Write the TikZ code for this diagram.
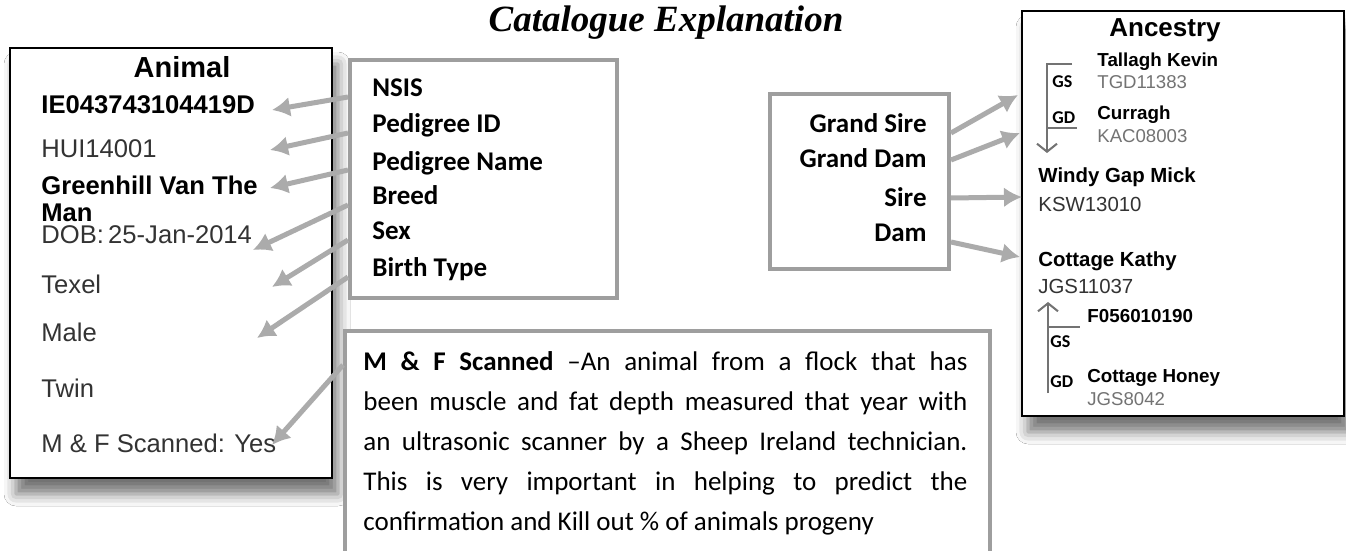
\documentclass[tikz,border=0pt]{standalone}
\usepackage{fontspec}
\setmainfont{Liberation Sans}
\newfontfamily\calibri{Carlito}
\newfontfamily\cambria{Liberation Serif}
\usetikzlibrary{positioning,arrows.meta,shadows.blur}

\begin{document}
\begin{tikzpicture}[x=0.5pt,y=-0.5pt,
card/.style={draw=black,line width=1pt,fill=white,anchor=north west,inner sep=0pt,
    blur shadow={shadow xshift=3pt,shadow yshift=-8pt,shadow blur radius=6pt,shadow opacity=55}},
keybox/.style={draw=black!38,line width=2pt,fill=white,anchor=north west,inner sep=0pt},
field/.style={anchor=base west,inner sep=0pt,text=black!80,font=\fontsize{12.8}{15}\selectfont},
bfield/.style={field,text=black,font=\fontsize{12.8}{15}\selectfont\bfseries},
key/.style={anchor=base west,inner sep=0pt,font=\calibri\bfseries\fontsize{13.5}{16}\selectfont},
rkey/.style={key,anchor=base east},
heading/.style={anchor=base,inner sep=0pt,font=\bfseries\fontsize{14.5}{17}\selectfont},
anc/.style={anchor=base west,inner sep=0pt,font=\bfseries\fontsize{9.4}{11}\selectfont},
ancid/.style={anchor=base west,inner sep=0pt,text=black!55,font=\fontsize{9.3}{11}\selectfont},
parent/.style={anchor=base west,inner sep=0pt,font=\bfseries\fontsize{10.2}{12}\selectfont},
parentid/.style={anchor=base west,inner sep=0pt,text=black!80,font=\fontsize{10.2}{12}\selectfont},
gen/.style={anchor=base west,inner sep=0pt,font=\calibri\bfseries\fontsize{9}{10}\selectfont},
pointer/.style={draw=black!33,line width=2.5pt,-{Latex[length=9pt,width=10pt]}},
tree/.style={draw=black!55,line width=1pt}]
\useasboundingbox[fill=white] (0,0) rectangle (1346,551);

\node (title) at (666,23) {\cambria\bfseries\itshape\fontsize{18.5}{22}\selectfont Catalogue Explanation};

\node (animal) [card,minimum width=161pt,minimum height=215pt] at (9,47) {};
\node (animalhd) [heading] at (182,78) {Animal};
\node (nsisval) [bfield] at (41,114) {IE043743104419D};
\node (pedid) [field] at (41,158) {HUI14001};
\node (pedname) [bfield] at (41,195) {Greenhill Van The};
\node (pedname2) [bfield] at (41,221) {Man};
\node (dob) [field] at (41,243) {DOB:\,25-Jan-2014};
\node (breed) [field] at (41,293) {Texel};
\node (sex) [field] at (41,342) {Male};
\node (birth) [field] at (41,397) {Twin};
\node (scanned) [field] at (41,452) {M \& F Scanned: Yes};

\node (keys) [keybox,minimum width=133.5pt,minimum height=119pt] at (348,58) {};
\node (k1) [key] at (372,97) {NSIS};
\node (k2) [key] at (372,133) {Pedigree ID};
\node (k3) [key] at (372,170) {Pedigree Name};
\node (k4) [key] at (372,205) {Breed};
\node (k5) [key] at (372,240) {Sex};
\node (k6) [key] at (372,277) {Birth Type};

\node (scanbox) [keybox,minimum width=322.5pt,minimum height=125pt] at (343,329) {};
\node (scaninfo) [anchor=north west,inner sep=0pt,text width=302pt,align=justify,
    font=\calibri\fontsize{13.5}{20}\selectfont] at (363,351)
    {\textbf{M \& F Scanned} –An animal from a flock that has\linebreak
    been muscle and fat depth measured that year with\linebreak
    an ultrasonic scanner by a Sheep Ireland technician.\linebreak
    This is very important in helping to predict the\linebreak
    confirmation and Kill out \% of animals progeny};

\node (rel) [keybox,minimum width=89.5pt,minimum height=87.5pt] at (768,92) {};
\node (r1) [rkey] at (927,133) {Grand Sire};
\node (r2) [rkey] at (927,168) {Grand Dam};
\node (r3) [rkey] at (927,206) {Sire};
\node (r4) [rkey] at (927,242) {Dam};

\node (ancestry) [card,minimum width=161pt,minimum height=202.5pt] at (1021,10) {};
\node (ancestryhd) [heading,font=\bfseries\fontsize{13}{15}\selectfont] at (1165,37) {Ancestry};
\node (gsire) [anc] at (1097,67) {Tallagh Kevin};
\node (gsireid) [ancid] at (1097,89) {TGD11383};
\node (gs1) [gen] at (1052,88) {GS};
\node (gdam) [anc] at (1097,120) {Curragh};
\node (gdamid) [ancid] at (1097,143) {KAC08003};
\node (gd1) [gen] at (1052,124) {GD};
\node (sire) [parent] at (1038,183) {Windy Gap Mick};
\node (sireid) [parentid] at (1038,212) {KSW13010};
\node (dam) [parent] at (1038,267) {Cottage Kathy};
\node (damid) [parentid] at (1038,293) {JGS11037};
\node (dgsire) [anc] at (1087,322) {F056010190};
\node (gs2) [gen] at (1050,348) {GS};
\node (gd2) [gen] at (1050,387) {GD};
\node (dgdam) [anc] at (1087,382) {Cottage Honey};
\node (dgdamid) [ancid] at (1087,405) {JGS8042};

\draw[tree,-{Straight Barb[length=4pt,width=10pt]}] (1072,64) -- (1047,64) -- (1047,153);
\draw[tree] (1047,128) -- (1077,128);
\draw[tree,-{Straight Barb[length=4pt,width=10pt]}] (1048,393) -- (1048,302);
\draw[tree] (1048,327) -- (1080,327);

\coordinate (h1) at (272,110);
\coordinate (h2) at (270,150);
\coordinate (h3) at (270,188);
\coordinate (h4) at (253,250);
\coordinate (h5) at (272,287);
\coordinate (h6) at (257,338);
\coordinate (h7) at (272,445);
\draw[pointer] (keys.west |- k1.base) -- (h1);
\draw[pointer] (keys.west |- k2.base) -- (h2);
\draw[pointer] (keys.west |- k3.base) -- (h3);
\draw[pointer] (keys.west |- k4.base) -- (h4);
\draw[pointer] (keys.west |- k5.base) -- (h5);
\draw[pointer] (keys.west |- k6.base) -- (h6);
\draw[pointer] ([yshift=-18pt]scanbox.north west) -- (h7);

\coordinate (a1) at (1018,95);
\coordinate (a2) at (1020,133);
\coordinate (a3) at (1022,197);
\coordinate (a4) at (1020,257);
\draw[pointer] (rel.east |- r1.base) -- (a1);
\draw[pointer] ([yshift=4pt]rel.east |- r2.base) -- (a2);
\draw[pointer] ([yshift=4pt]rel.east |- r3.base) -- (a3);
\draw[pointer] (rel.east |- r4.base) -- (a4);
\end{tikzpicture}
\end{document}
